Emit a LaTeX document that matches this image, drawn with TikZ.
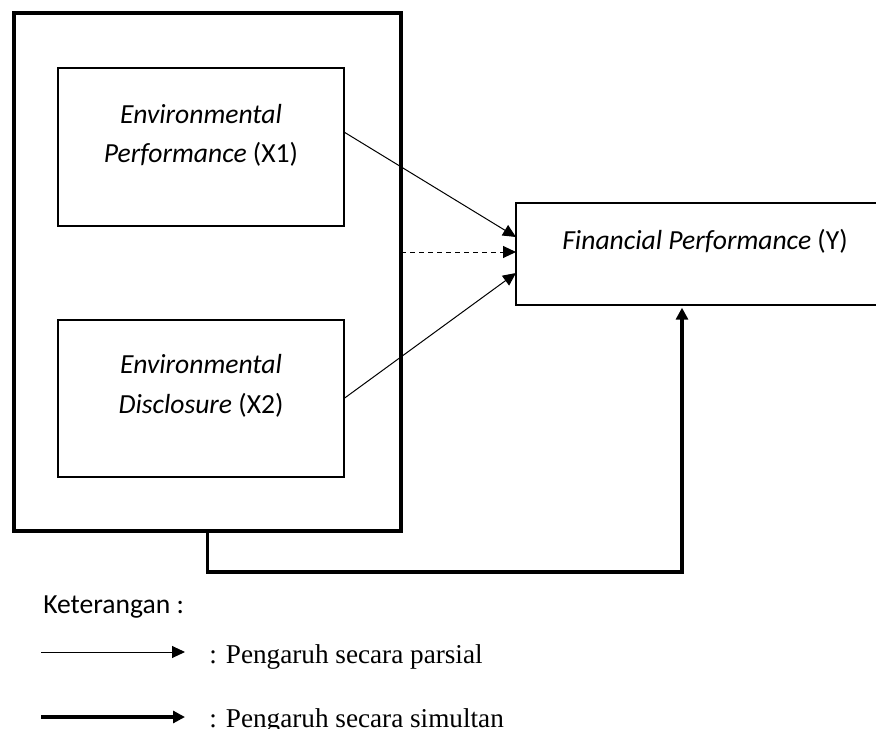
\documentclass[tikz,border=0pt]{standalone}
\usepackage{fontspec}
\setmainfont{Liberation Serif}
\newfontfamily\calfont{Carlito}
\usetikzlibrary{arrows.meta,calc}
\begin{document}
\begin{tikzpicture}[x=0.75pt,y=-0.75pt,
  box/.style={draw,line width=1.5pt,inner sep=0pt,outer sep=0pt},
  outerbox/.style={draw,line width=2.4pt,inner sep=0pt,outer sep=0pt},
  lab/.style={anchor=base,inner sep=0pt,font=\calfont\fontsize{20.7pt}{24pt}\selectfont},
  leg/.style={anchor=base west,inner sep=0pt,font=\fontsize{20.4pt}{24pt}\selectfont},
  thin/.style={line width=0.75pt,-{Triangle[length=9.75pt,width=9pt]}},
  thickarr/.style={line width=2.7pt,-{Triangle[length=9pt,width=9pt]}}]
\useasboundingbox (0,0) rectangle (876,729);
\clip (0,0) rectangle (876,729);
% boxes
\node[outerbox,minimum width=290.25pt,minimum height=388.5pt] (outer) at (207.5,272) {};
\node[box,minimum width=214.5pt,minimum height=118.5pt] (b1) at (201,147) {};
\node[box,minimum width=214.5pt,minimum height=117.75pt] (b2) at (201,398.5) {};
\node[box,minimum width=285pt,minimum height=76.5pt] (Y) at (706,254) {};
% labels
\node[lab] (t1a) at (201,123) {\itshape Environmental};
\node[lab] (t1b) at (201,162) {\textit{Performance} (X1)};
\node[lab] (t2a) at (201,373) {\itshape Environmental};
\node[lab] (t2b) at (201,413) {\textit{Disclosure} (X2)};
\node[lab] (ty) at (705,249) {\textit{Financial Performance} (Y)};
% connectors
\coordinate (y1) at ($(Y.west)+(0,-17)$);
\coordinate (y2) at ($(Y.west)+(0,-2)$);
\coordinate (y3) at ($(Y.west)+(0,19)$);
\draw[thin] ($(b1.east)+(0,-15)$) -- (y1);
\draw[thin,dashed,dash pattern=on 3.75pt off 3pt] (outer.east |- y2) -- (y2);
\draw[thin] (b2.east) -- (y3);
\coordinate (sim) at (682,572);
\draw[thickarr,shorten >=2pt] (outer.south) |- (sim) -- (Y.south -| sim);
% legend
\node[lab,anchor=base west] (ket) at (43,613) {Keterangan :};
\coordinate (l1a) at (41,652);
\coordinate (l1b) at (185,652);
\coordinate (l2a) at (41,717);
\coordinate (l2b) at (185,717);
\draw[thin] (l1a) -- (l1b);
\draw[thickarr] (l2a) -- (l2b);
\node[leg] (p1) at (209,663) {: Pengaruh secara parsial};
\node[leg] (p2) at (209,727) {: Pengaruh secara simultan};
\end{tikzpicture}
\end{document}
